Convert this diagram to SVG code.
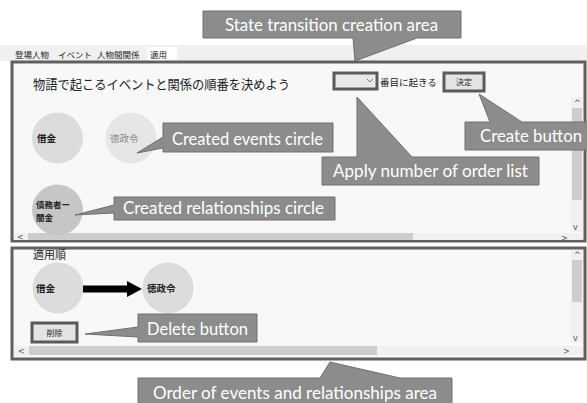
<svg xmlns="http://www.w3.org/2000/svg" width="587" height="403" viewBox="0 0 587 403">
<defs>
<style>
.jp{font-family:"Noto Sans CJK JP","Noto Sans",sans-serif;fill:#222}
.co{fill:#8c8c8c;stroke:#707070;stroke-width:1}
.ct{font-family:Lato,"Open Sans",sans-serif;font-size:17px;fill:#fff}
.panel{fill:#f8f8f8;stroke:#606060;stroke-width:3}
.track{fill:#f0f0f0}
.thumb{fill:#cdcdcd}
.sa{font-family:"DejaVu Sans",sans-serif;font-size:8px;fill:#555}
.btn{fill:#e4e4e4;stroke:#5a5a5a;stroke-width:3}
</style>
<marker id="ah" markerUnits="userSpaceOnUse" markerWidth="16" markerHeight="18" refX="1" refY="9" orient="auto">
<path d="M0,1 L15,9 L0,17 Z" fill="#000"/>
</marker>
</defs>
<rect width="587" height="403" fill="#fff"/>

<g id="tabs">
<rect x="0" y="45" width="587" height="16" fill="#f0f0f0"/>
<rect x="147" y="47" width="30" height="14" fill="#fff"/>
<text class="jp" x="15" y="58" font-size="8.5">登場人物</text>
<text class="jp" x="58" y="58" font-size="8.5">イベント</text>
<text class="jp" x="97" y="58" font-size="8.5">人物間関係</text>
<text class="jp" x="150" y="58" font-size="8.5">適用</text>
</g>

<g id="creation-panel">
<rect class="panel" x="12" y="62" width="573" height="179"/>
<text class="jp" x="33" y="89" font-size="13" textLength="257" lengthAdjust="spacingAndGlyphs">物語で起こるイベントと関係の順番を決めよう</text>
<rect x="571" y="97" width="12" height="135" class="track"/>
<rect x="572" y="108" width="10" height="92" class="thumb"/>
<text class="sa" x="574" y="106">^</text>
<text class="sa" x="573" y="230">v</text>
<rect x="14" y="233" width="569" height="7" class="track"/>
<rect x="28" y="233" width="385" height="7" class="thumb"/>
<text class="sa" x="17" y="240">&lt;</text>
<text class="sa" x="561" y="241">&gt;</text>
</g>

<g id="order-select">
<rect x="334" y="73" width="43" height="16" fill="#e8e8e8" stroke="#5a5a5a" stroke-width="3"/>
<path d="M367,79 L370,82 L373,79" fill="none" stroke="#777" stroke-width="1"/>
<text class="jp" x="380" y="86" font-size="9.5">番目に起きる</text>
</g>

<g id="create-btn">
<rect class="btn" x="444" y="73" width="40" height="18"/>
<text class="jp" x="464" y="85" font-size="8" text-anchor="middle">決定</text>
</g>

<g id="event-shakkin">
<circle cx="57.5" cy="138" r="25.5" fill="#dcdcdc"/>
<text class="jp" x="37" y="142" font-size="9.5" font-weight="bold">借金</text>
</g>
<g id="event-tokusei">
<circle cx="131" cy="138" r="25.5" fill="#e6e6e6"/>
<text class="jp" x="110" y="142" font-size="9.5" style="fill:#8a8a8a">徳政令</text>
</g>
<g id="relation-circle">
<circle cx="57.5" cy="210" r="25.5" fill="#c6c6c6"/>
<text class="jp" x="36" y="208" font-size="8.5" font-weight="bold">債務者ー</text>
<text class="jp" x="36" y="221" font-size="8.5" font-weight="bold">闇金</text>
</g>

<g id="order-panel">
<rect class="panel" x="12" y="248" width="573" height="111"/>
<text class="jp" x="33" y="259" font-size="11">適用順</text>
<rect x="571" y="250" width="12" height="92" class="track"/>
<rect x="572" y="260" width="10" height="42" class="thumb"/>
<text class="sa" x="574" y="258">^</text>
<text class="sa" x="573" y="341">v</text>
<rect x="14" y="346" width="569" height="9" class="track"/>
<rect x="29" y="346" width="348" height="9" class="thumb"/>
<text class="sa" x="18" y="354">&lt;</text>
<text class="sa" x="563" y="354">&gt;</text>
</g>

<g id="order-shakkin">
<circle cx="58" cy="288" r="25.5" fill="#dcdcdc"/>
<text class="jp" x="36" y="292" font-size="9.5" font-weight="bold">借金</text>
</g>
<g id="order-tokusei">
<circle cx="168" cy="288" r="25.5" fill="#dcdcdc"/>
<text class="jp" x="147" y="292" font-size="9.5" font-weight="bold">徳政令</text>
</g>

<g id="delete-btn">
<rect class="btn" x="32" y="323" width="45" height="19"/>
<text class="jp" x="54.5" y="336" font-size="8" text-anchor="middle">削除</text>
</g>

<g id="connectors">
<line x1="83" y1="289" x2="128" y2="289" stroke="#000" stroke-width="7" marker-end="url(#ah)"/>
</g>

<g id="callout-state">
<path class="co" d="M203,11 H461 V38 H417 L355,61 L353,38 H203 Z"/>
<text class="ct" x="225" y="31" textLength="213" lengthAdjust="spacingAndGlyphs">State transition creation area</text>
</g>
<g id="callout-events">
<path class="co" d="M163,123 H333 V152 H163 V148 L137,153 L163,137 Z"/>
<text class="ct" x="172" y="145" textLength="151" lengthAdjust="spacingAndGlyphs">Created events circle</text>
</g>
<g id="callout-create">
<path class="co" d="M465,122 H490 L479,94 L522,122 H590 V150 H465 Z"/>
<text class="ct" x="480" y="142" textLength="102" lengthAdjust="spacingAndGlyphs">Create button</text>
</g>
<g id="callout-apply">
<path class="co" d="M322,157 H357 V97 L412,157 H539 V185 H322 Z"/>
<text class="ct" x="333" y="177" textLength="195" lengthAdjust="spacingAndGlyphs">Apply number of order list</text>
</g>
<g id="callout-relations">
<path class="co" d="M114,197 H335 V220 H114 V213 L75,215 L114,205 Z"/>
<text class="ct" x="123" y="214" textLength="201" lengthAdjust="spacingAndGlyphs">Created relationships circle</text>
</g>
<g id="callout-delete">
<path class="co" d="M138,314 H257 V342 H138 V337 L85,334 L138,327 Z"/>
<text class="ct" x="147" y="335" textLength="101" lengthAdjust="spacingAndGlyphs">Delete button</text>
</g>
<g id="callout-order">
<path class="co" d="M138,378 H320 L330,362 L400,378 H452 V406 H138 Z"/>
<text class="ct" x="153" y="399" textLength="284" lengthAdjust="spacingAndGlyphs">Order of events and relationships area</text>
</g>
</svg>
